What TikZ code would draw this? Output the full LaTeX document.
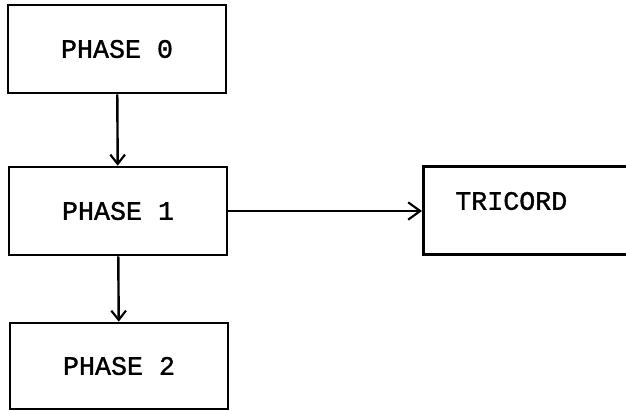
\documentclass[tikz,border=0pt]{standalone}
\usepackage{fontspec}
\setmonofont[FakeBold=1.2]{Liberation Mono}
\usetikzlibrary{arrows.meta}

\begin{document}
\begin{tikzpicture}[x=0.75pt, y=-0.75pt,
	phasebox/.style={draw, line width=2pt, minimum width=163.5pt, minimum height=66pt, inner sep=0pt, font=\ttfamily\fontsize{20}{24}\selectfont},
	flow/.style={line width=1.8pt, -{Straight Barb[length=7pt, width=11pt, line width=1.6pt]}}]
	\useasboundingbox (0,0) rectangle (626,411);
	\clip (0,0) rectangle (626,411);
	\node[phasebox] (ph0) at (117,49) {PHASE 0};
	\node[phasebox] (ph1) at (118,211) {PHASE 1};
	\node[phasebox, minimum height=64.5pt] (ph2) at (119,366) {PHASE 2};
	\node[phasebox, minimum width=195pt, anchor=north west] (tri) at (422,165) {};
	\node[font=\ttfamily\fontsize{20}{24}\selectfont, anchor=west, inner sep=0pt] (tritext) at (455,201) {TRICORD};
	
	\draw[flow] (ph0) -- (ph1);
	\draw[flow] (ph1) -- (ph2);
	\draw[flow, -{Straight Barb[length=9pt, width=13pt, line width=1.6pt]}] (ph1.east) -- (tri.west |- ph1.east);
\end{tikzpicture}
\end{document}
